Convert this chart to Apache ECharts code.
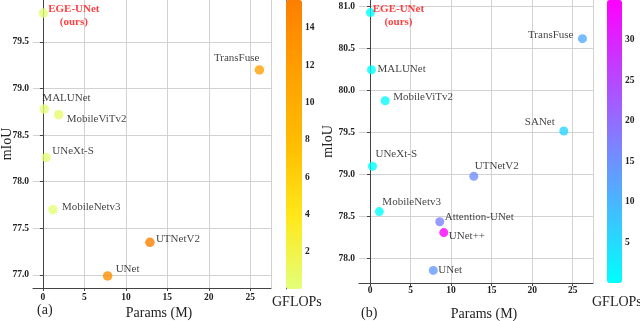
<!DOCTYPE html>
<html>
<head>
<meta charset="utf-8">
<script src="https://cdn.jsdelivr.net/npm/echarts@6/dist/echarts.min.js"></script>
<style>
  html, body { margin: 0; padding: 0; background: #fff; }
  #chart { width: 640px; height: 321px; }
</style>
</head>
<body>
<div id="chart"></div>
<script>
// panel (a)
const namesA = ["EGE-UNet", "MALUNet", "MobileViTv2", "UNeXt-S", "MobileNetv3", "UTNetV2", "UNet", "TransFuse"];
const paramsA = [0.05, 0.17, 1.9, 0.4, 1.2, 12.9, 7.8, 26.1];
const miouA = [79.81, 78.78, 78.72, 78.26, 77.70, 77.35, 76.99, 79.20];
const gflopsA = [0.072, 0.083, 0.7, 0.1, 0.1, 15.5, 13.8, 11.5];

// panel (b)
const namesB = ["EGE-UNet", "MALUNet", "MobileViTv2", "UNeXt-S", "MobileNetv3", "Attention-UNet", "UNet++", "UNet", "UTNetV2", "SANet", "TransFuse"];
const paramsB = [0.05, 0.18, 1.87, 0.3, 1.15, 8.6, 9.1, 7.8, 12.8, 23.9, 26.2];
const miouB = [80.93, 80.25, 79.88, 79.10, 78.56, 78.44, 78.31, 77.86, 78.98, 79.52, 80.62];
const gflopsB = [0.072, 0.083, 0.7, 0.1, 0.1, 16.7, 34.9, 13.8, 15.5, 5.99, 11.5];

// label placement: [dx, dy, align] from point centre
const labelPosA = {
  "EGE-UNet": [30.5, 2.5, "center"],
  "MALUNet": [-2, -11, "left"],
  "MobileViTv2": [8, 4, "left"],
  "UNeXt-S": [6, -6, "left"],
  "MobileNetv3": [9, -3, "left"],
  "UTNetV2": [6, -3, "left"],
  "UNet": [8, -7, "left"],
  "TransFuse": [0, -12, "right"]
};
const labelPosB = {
  "EGE-UNet": [28, 3, "center"],
  "MALUNet": [6, -1, "left"],
  "MobileViTv2": [8, -4, "left"],
  "UNeXt-S": [3, -12, "left"],
  "MobileNetv3": [3, -10, "left"],
  "Attention-UNet": [5, -5, "left"],
  "UNet++": [5, 3, "left"],
  "UNet": [5, 0, "left"],
  "UTNetV2": [1, -10, "left"],
  "SANet": [-9, -9, "right"],
  "TransFuse": [-9, -4, "right"]
};

const serif = '"Liberation Serif", "Times New Roman", serif';
const wistia = ["#e4ff7a", "#ffe81a", "#ffbd00", "#ffa000", "#fc7f00"];
const cool = ["#00ffff", "#ff00ff"];

function buildData(names, params, miou, gflops, pos) {
  return names.map(function (n, i) {
    const p = pos[n];
    const ours = n === "EGE-UNet";
    return {
      name: n,
      value: [params[i], miou[i], gflops[i]],
      label: {
        show: true,
        position: "inside",
        align: p[2],
        verticalAlign: "middle",
        offset: [p[0], p[1]],
        formatter: ours ? "{b}\n(ours)" : "{b}",
        color: ours ? "#ff1010" : "#111",
        fontWeight: ours ? "bold" : "normal",
        lineHeight: 13,
        fontFamily: serif,
        fontSize: 11
      }
    };
  });
}

const tickLabel = { fontFamily: serif, fontWeight: "bold", fontSize: 9.5, color: "#222" };
const axisLine = { show: true, lineStyle: { color: "#444", width: 1 } };
const splitLine = { show: true, showMinLine: false, lineStyle: { color: "#d2d2d2", width: 1 } };

function xAx(gridIndex, min, max, nameShift, nameGap, margin) {
  return {
    type: "value", gridIndex: gridIndex, min: min, max: max,
    axisLine: axisLine,
    axisTick: { show: true, length: 3, lineStyle: { color: "#444" } },
    axisLabel: Object.assign({ margin: margin, showMinLabel: false, showMaxLabel: false }, tickLabel),
    splitLine: Object.assign({ showMaxLine: true }, splitLine),
    name: "Params (M)", nameLocation: "middle", nameGap: nameGap, nameMoveOverlap: false,
    nameTextStyle: { fontFamily: serif, fontSize: 14, color: "#222", padding: [0, 0, 0, nameShift] }
  };
}
function yAx(gridIndex, min, max, nameGap) {
  return {
    type: "value", gridIndex: gridIndex, min: min, max: max,
    axisLine: axisLine,
    axisTick: { show: true, length: 3, lineStyle: { color: "#444" } },
    axisLabel: Object.assign({ margin: 4, showMinLabel: false, showMaxLabel: false,
      formatter: function (v) { return v.toFixed(1); } }, tickLabel),
    splitLine: Object.assign({ showMaxLine: false }, splitLine),
    name: "mIoU", nameLocation: "middle", nameGap: nameGap, nameMoveOverlap: false,
    nameTextStyle: { fontFamily: serif, fontSize: 14, color: "#222" }
  };
}
function barAx(gridIndex, max, interval) {
  return {
    type: "value", gridIndex: gridIndex, position: "right", min: 0, max: max, interval: interval,
    axisLine: { show: false },
    axisTick: { show: true, length: 3, lineStyle: { color: "#444" } },
    axisLabel: Object.assign({ margin: 3, showMinLabel: false, showMaxLabel: false }, tickLabel),
    splitLine: { show: false }
  };
}

const chart = echarts.init(document.getElementById("chart"));
chart.setOption({
  backgroundColor: "#fff",
  animation: false,
  grid: [
    { left: 33, top: 0, width: 238, height: 288, outerBoundsMode: "none" },
    { left: 359, top: 0, width: 234, height: 283, outerBoundsMode: "none" },
    { left: 286, top: 0, width: 16, height: 289, outerBoundsMode: "none" },
    { left: 607, top: 0, width: 15, height: 283, outerBoundsMode: "none" }
  ],
  xAxis: [
    xAx(0, -1.2, 27.5, 14, 18, 5),
    xAx(1, -1.36, 27.5, 16, 24, 3),
    { type: "value", gridIndex: 2, show: false, min: 0, max: 1 },
    { type: "value", gridIndex: 3, show: false, min: 0, max: 1 }
  ],
  yAxis: [
    yAx(0, 76.86, 79.95, 19),
    yAx(1, 77.71, 81.08, 24),
    barAx(2, 15.5, 2),
    barAx(3, 34.9, 5),
    { type: "value", gridIndex: 2, position: "left", min: 0, max: 1,
      axisLine: { show: true, lineStyle: { color: "#555", width: 1 } },
      axisTick: { show: false }, axisLabel: { show: false }, splitLine: { show: false } }
  ],
  visualMap: [
    { type: "continuous", seriesIndex: 0, dimension: 2, min: 0.072, max: 15.5,
      inRange: { color: wistia }, calculable: false, left: 286, top: 0,
      itemWidth: 16, itemHeight: 289, padding: 0 },
    { type: "continuous", seriesIndex: 1, dimension: 2, min: 0.072, max: 34.9,
      inRange: { color: cool }, calculable: false, left: 607, top: 0,
      itemWidth: 15, itemHeight: 283, padding: 0 }
  ],
  graphic: [
    { type: "text", left: 37, top: 303, style: { text: "(a)", font: "14px " + serif, fill: "#222" } },
    { type: "text", left: 361, top: 306, style: { text: "(b)", font: "14px " + serif, fill: "#222" } },
    { type: "text", left: 272, top: 295, style: { text: "GFLOPs", font: "14px " + serif, fill: "#222" } },
    { type: "text", left: 592, top: 295, style: { text: "GFLOPs", font: "14px " + serif, fill: "#222" } }
  ],
  series: [
    {
      type: "scatter", xAxisIndex: 0, yAxisIndex: 0, symbolSize: 9.5,
      emphasis: { disabled: true },
      data: buildData(namesA, paramsA, miouA, gflopsA, labelPosA)
    },
    {
      type: "scatter", xAxisIndex: 1, yAxisIndex: 1, symbolSize: 9,
      emphasis: { disabled: true },
      data: buildData(namesB, paramsB, miouB, gflopsB, labelPosB)
    }
  ]
});
</script>
</body>
</html>
